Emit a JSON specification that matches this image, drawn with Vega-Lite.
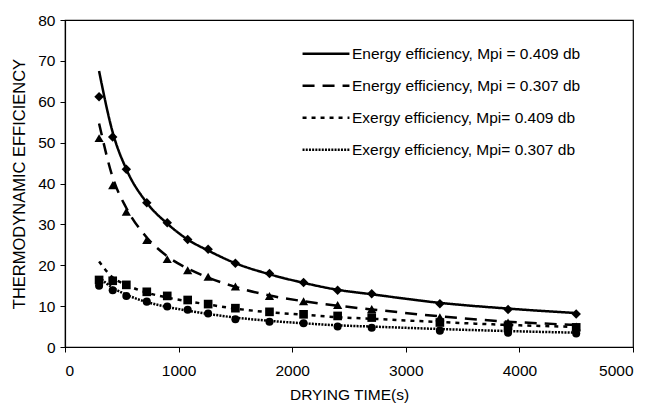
{
  "$schema": "https://vega.github.io/schema/vega-lite/v6.json",
  "width": 568,
  "height": 327,
  "autosize": {"type": "none"},
  "padding": {"left": 65, "top": 20, "right": 16, "bottom": 59},
  "config": {
    "font": "Liberation Sans",
    "view": {"stroke": "#000000", "strokeWidth": 1.2},
    "axis": {"grid": false, "domainColor": "#000000", "tickColor": "#000000", "labelColor": "#000000", "titleColor": "#000000", "labelFontSize": 15.5, "titleFontSize": 15.5, "titleFontWeight": "normal", "tickSize": 5, "domainWidth": 1.2}
  },
  "data": {
    "values": [
      {"t": 300, "series": "Energy efficiency, Mpi = 0.409 db", "fit": 67.5, "obs": 61.2},
      {"t": 420, "series": "Energy efficiency, Mpi = 0.409 db", "fit": 52.5, "obs": 51.4},
      {"t": 540, "series": "Energy efficiency, Mpi = 0.409 db", "fit": 43.5, "obs": 43.5},
      {"t": 720, "series": "Energy efficiency, Mpi = 0.409 db", "fit": 35.3, "obs": 35.3},
      {"t": 900, "series": "Energy efficiency, Mpi = 0.409 db", "fit": 30.2, "obs": 30.4},
      {"t": 1080, "series": "Energy efficiency, Mpi = 0.409 db", "fit": 26.3, "obs": 26.3},
      {"t": 1260, "series": "Energy efficiency, Mpi = 0.409 db", "fit": 23.6, "obs": 23.9},
      {"t": 1500, "series": "Energy efficiency, Mpi = 0.409 db", "fit": 20.5, "obs": 20.5},
      {"t": 1800, "series": "Energy efficiency, Mpi = 0.409 db", "fit": 17.8, "obs": 18.0},
      {"t": 2100, "series": "Energy efficiency, Mpi = 0.409 db", "fit": 15.7, "obs": 15.8},
      {"t": 2400, "series": "Energy efficiency, Mpi = 0.409 db", "fit": 14.0, "obs": 13.9},
      {"t": 2700, "series": "Energy efficiency, Mpi = 0.409 db", "fit": 12.9, "obs": 13.0},
      {"t": 3300, "series": "Energy efficiency, Mpi = 0.409 db", "fit": 10.8, "obs": 10.6},
      {"t": 3900, "series": "Energy efficiency, Mpi = 0.409 db", "fit": 9.4, "obs": 9.2},
      {"t": 4500, "series": "Energy efficiency, Mpi = 0.409 db", "fit": 8.3, "obs": 8.1},
      {"t": 300, "series": "Energy efficiency, Mpi = 0.307 db", "fit": 54.7, "obs": 51.1},
      {"t": 420, "series": "Energy efficiency, Mpi = 0.307 db", "fit": 41.5, "obs": 39.6},
      {"t": 540, "series": "Energy efficiency, Mpi = 0.307 db", "fit": 34.0, "obs": 33.1},
      {"t": 720, "series": "Energy efficiency, Mpi = 0.307 db", "fit": 26.8, "obs": 26.2},
      {"t": 900, "series": "Energy efficiency, Mpi = 0.307 db", "fit": 22.2, "obs": 21.5},
      {"t": 1080, "series": "Energy efficiency, Mpi = 0.307 db", "fit": 19.2, "obs": 18.8},
      {"t": 1260, "series": "Energy efficiency, Mpi = 0.307 db", "fit": 17.0, "obs": 17.2},
      {"t": 1500, "series": "Energy efficiency, Mpi = 0.307 db", "fit": 14.7, "obs": 14.8},
      {"t": 1800, "series": "Energy efficiency, Mpi = 0.307 db", "fit": 12.6, "obs": 12.5},
      {"t": 2100, "series": "Energy efficiency, Mpi = 0.307 db", "fit": 11.2, "obs": 11.2},
      {"t": 2400, "series": "Energy efficiency, Mpi = 0.307 db", "fit": 10.1, "obs": 10.3},
      {"t": 2700, "series": "Energy efficiency, Mpi = 0.307 db", "fit": 9.2, "obs": 9.3},
      {"t": 3300, "series": "Energy efficiency, Mpi = 0.307 db", "fit": 7.5, "obs": 7.3},
      {"t": 3900, "series": "Energy efficiency, Mpi = 0.307 db", "fit": 6.2, "obs": 6.0},
      {"t": 4500, "series": "Energy efficiency, Mpi = 0.307 db", "fit": 5.4, "obs": 5.0},
      {"t": 300, "series": "Exergy efficiency, Mpi= 0.409 db", "fit": 20.9, "obs": 16.4},
      {"t": 420, "series": "Exergy efficiency, Mpi= 0.409 db", "fit": 17.0, "obs": 16.2},
      {"t": 540, "series": "Exergy efficiency, Mpi= 0.409 db", "fit": 15.2, "obs": 15.2},
      {"t": 720, "series": "Exergy efficiency, Mpi= 0.409 db", "fit": 13.3, "obs": 13.5},
      {"t": 900, "series": "Exergy efficiency, Mpi= 0.409 db", "fit": 12.1, "obs": 12.5},
      {"t": 1080, "series": "Exergy efficiency, Mpi= 0.409 db", "fit": 11.2, "obs": 11.5},
      {"t": 1260, "series": "Exergy efficiency, Mpi= 0.409 db", "fit": 10.4, "obs": 10.5},
      {"t": 1500, "series": "Exergy efficiency, Mpi= 0.409 db", "fit": 9.4, "obs": 9.5},
      {"t": 1800, "series": "Exergy efficiency, Mpi= 0.409 db", "fit": 8.5, "obs": 8.6},
      {"t": 2100, "series": "Exergy efficiency, Mpi= 0.409 db", "fit": 7.9, "obs": 8.0},
      {"t": 2400, "series": "Exergy efficiency, Mpi= 0.409 db", "fit": 7.3, "obs": 7.6},
      {"t": 2700, "series": "Exergy efficiency, Mpi= 0.409 db", "fit": 6.9, "obs": 7.2},
      {"t": 3300, "series": "Exergy efficiency, Mpi= 0.409 db", "fit": 6.1, "obs": 6.0},
      {"t": 3900, "series": "Exergy efficiency, Mpi= 0.409 db", "fit": 5.4, "obs": 5.2},
      {"t": 4500, "series": "Exergy efficiency, Mpi= 0.409 db", "fit": 4.9, "obs": 4.8},
      {"t": 300, "series": "Exergy efficiency, Mpi= 0.307 db", "fit": 17.0, "obs": 15.0},
      {"t": 420, "series": "Exergy efficiency, Mpi= 0.307 db", "fit": 14.5, "obs": 13.9},
      {"t": 540, "series": "Exergy efficiency, Mpi= 0.307 db", "fit": 12.8, "obs": 12.5},
      {"t": 720, "series": "Exergy efficiency, Mpi= 0.307 db", "fit": 11.0, "obs": 11.1},
      {"t": 900, "series": "Exergy efficiency, Mpi= 0.307 db", "fit": 9.8, "obs": 9.9},
      {"t": 1080, "series": "Exergy efficiency, Mpi= 0.307 db", "fit": 8.9, "obs": 9.1},
      {"t": 1260, "series": "Exergy efficiency, Mpi= 0.307 db", "fit": 8.1, "obs": 8.2},
      {"t": 1500, "series": "Exergy efficiency, Mpi= 0.307 db", "fit": 7.2, "obs": 6.8},
      {"t": 1800, "series": "Exergy efficiency, Mpi= 0.307 db", "fit": 6.4, "obs": 6.2},
      {"t": 2100, "series": "Exergy efficiency, Mpi= 0.307 db", "fit": 5.8, "obs": 5.8},
      {"t": 2400, "series": "Exergy efficiency, Mpi= 0.307 db", "fit": 5.3, "obs": 5.0},
      {"t": 2700, "series": "Exergy efficiency, Mpi= 0.307 db", "fit": 5.0, "obs": 4.7},
      {"t": 3300, "series": "Exergy efficiency, Mpi= 0.307 db", "fit": 4.4, "obs": 4.0},
      {"t": 3900, "series": "Exergy efficiency, Mpi= 0.307 db", "fit": 3.9, "obs": 3.5},
      {"t": 4500, "series": "Exergy efficiency, Mpi= 0.307 db", "fit": 3.5, "obs": 3.3}
    ]
  },
  "encoding": {
    "x": {"field": "t", "type": "quantitative", "scale": {"domain": [0, 5000], "nice": false}, "axis": {"values": [0, 1000, 2000, 3000, 4000, 5000], "format": "d", "title": "DRYING TIME(s)", "labelPadding": 11, "titlePadding": 9}}
  },
  "layer": [
    {
      "mark": {"type": "line", "interpolate": "monotone", "strokeWidth": 2.5, "color": "#000000"},
      "encoding": {
        "y": {"field": "fit", "type": "quantitative", "scale": {"domain": [0, 80], "nice": false}, "axis": {"values": [0, 10, 20, 30, 40, 50, 60, 70, 80], "title": "THERMODYNAMIC EFFICIENCY", "titleFontSize": 16.5, "labelPadding": 5, "titlePadding": 10}},
        "detail": {"field": "series"},
        "strokeDash": {
          "field": "series", "type": "nominal",
          "scale": {"domain": ["Energy efficiency, Mpi = 0.409 db", "Energy efficiency, Mpi = 0.307 db", "Exergy efficiency, Mpi= 0.409 db", "Exergy efficiency, Mpi= 0.307 db"], "range": [[1, 0], [12, 8], [4, 5], [2, 1.2]]},
          "legend": {"title": null, "orient": "none", "legendX": 236, "legendY": 18, "symbolType": "stroke", "symbolSize": 2200, "symbolStrokeWidth": 2.5, "symbolStrokeColor": "#000000", "labelFontSize": 15.5, "labelColor": "#000000", "labelLimit": 400, "rowPadding": 0, "clipHeight": 31.7, "labelOffset": 1}
        }
      }
    },
    {
      "transform": [{"filter": "datum.series === 'Energy efficiency, Mpi = 0.409 db'"}],
      "mark": {"type": "point", "shape": "diamond", "filled": true, "opacity": 1, "color": "#000000", "size": 90},
      "encoding": {"y": {"field": "obs", "type": "quantitative"}}
    },
    {
      "transform": [{"filter": "datum.series === 'Energy efficiency, Mpi = 0.307 db'"}],
      "mark": {"type": "point", "shape": "triangle-up", "filled": true, "opacity": 1, "color": "#000000", "size": 85},
      "encoding": {"y": {"field": "obs", "type": "quantitative"}}
    },
    {
      "transform": [{"filter": "datum.series === 'Exergy efficiency, Mpi= 0.409 db'"}],
      "mark": {"type": "point", "shape": "square", "filled": true, "opacity": 1, "color": "#000000", "size": 75},
      "encoding": {"y": {"field": "obs", "type": "quantitative"}}
    },
    {
      "transform": [{"filter": "datum.series === 'Exergy efficiency, Mpi= 0.307 db'"}],
      "mark": {"type": "point", "shape": "circle", "filled": true, "opacity": 1, "color": "#000000", "size": 65},
      "encoding": {"y": {"field": "obs", "type": "quantitative"}}
    }
  ]
}
